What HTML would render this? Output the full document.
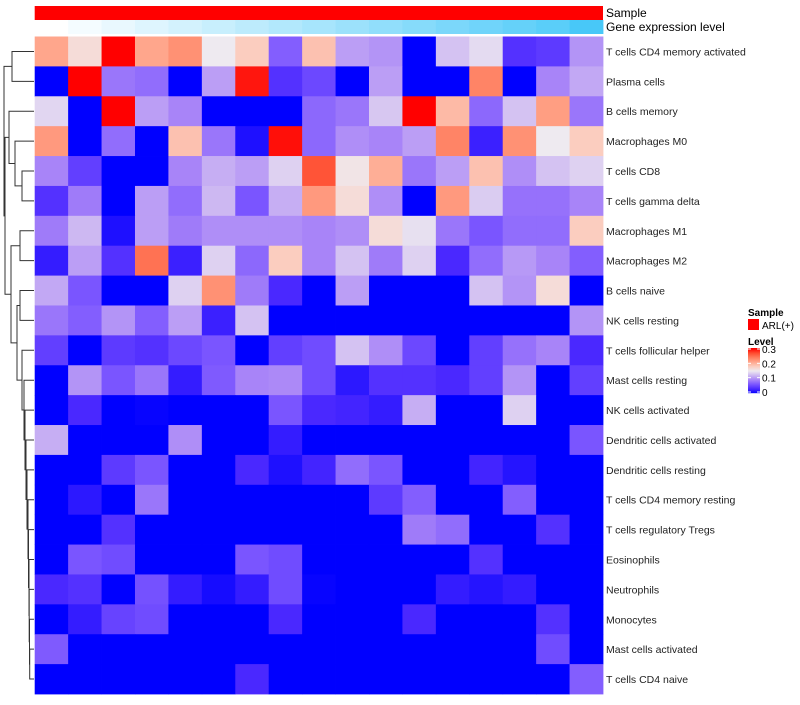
<!DOCTYPE html>
<html><head><meta charset="utf-8"><style>
body{margin:0;background:#fff;font-family:"Liberation Sans",sans-serif}
svg text{font-family:"Liberation Sans",sans-serif}
</style></head><body>
<svg id="chart" width="800" height="700" viewBox="0 0 800 700" xmlns="http://www.w3.org/2000/svg">
<g id="dendro"></g>
<g id="annot"></g>
<g id="cells"></g>
<g id="labels"></g>
<g id="legend"></g>
</svg>
<script>
const rowNames = ["T cells CD4 memory activated","Plasma cells","B cells memory","Macrophages M0","T cells CD8","T cells gamma delta","Macrophages M1","Macrophages M2","B cells naive","NK cells resting","T cells follicular helper","Mast cells resting","NK cells activated","Dendritic cells activated","Dendritic cells resting","T cells CD4 memory resting","T cells regulatory  Tregs","Eosinophils","Neutrophils","Monocytes","Mast cells activated","T cells CD4 naive"];
const geneLevel = [0,0.06,0.12,0.18,0.24,0.3,0.36,0.42,0.48,0.54,0.6,0.66,0.72,0.78,0.84,0.9,1];
const legendTicks = ["0","0.1","0.2","0.3"];
// relative level (0..1 of the 0–0.3 scale)
const row1 = [0.7,0.55,1,0.7,0.75,0.5,0.6,0.22,0.63,0.35,0.33,0,0.42,0.47,0.12,0.14,0.33];
const row2 = [0,1,0.27,0.25,0,0.35,0.97,0.12,0.17,0,0.35,0,0,0.78,0,0.3,0.37];
const row3 = [0.46,0,1,0.35,0.3,0,0,0,0.24,0.27,0.43,1,0.65,0.24,0.42,0.72,0.27];
const row4 = [0.73,0,0.25,0,0.63,0.27,0.04,0.98,0.24,0.32,0.3,0.35,0.78,0.08,0.75,0.5,0.6];
const row5 = [0.3,0.15,0,0,0.3,0.38,0.35,0.45,0.88,0.52,0.68,0.27,0.35,0.63,0.32,0.42,0.45];
const row6 = [0.12,0.28,0,0.35,0.25,0.4,0.2,0.38,0.73,0.55,0.32,0,0.73,0.44,0.26,0.26,0.3];
const row7 = [0.28,0.4,0.04,0.35,0.28,0.32,0.32,0.32,0.3,0.32,0.55,0.48,0.27,0.2,0.25,0.25,0.6];
const row8 = [0.07,0.35,0.12,0.82,0.08,0.45,0.24,0.6,0.3,0.42,0.28,0.45,0.1,0.25,0.34,0.3,0.22];
const row9 = [0.37,0.2,0,0,0.45,0.75,0.28,0.1,0,0.35,0,0,0,0.42,0.33,0.55,0];
const row10 = [0.27,0.22,0.33,0.22,0.35,0.08,0.42,0,0,0,0,0,0,0,0,0,0.33];
const row11 = [0.15,0,0.14,0.12,0.17,0.2,0,0.15,0.18,0.42,0.32,0.17,0,0.15,0.26,0.3,0.1];
const row12 = [0,0.33,0.2,0.27,0.07,0.21,0.3,0.31,0.18,0.06,0.12,0.12,0.1,0.15,0.33,0,0.15];
const row13 = [0,0.1,0,0.01,0,0,0,0.2,0.1,0.09,0.07,0.38,0,0,0.45,0,0];
const row14 = [0.38,0,0,0,0.32,0,0,0.07,0,0,0,0,0,0,0,0,0.2];
const row15 = [0,0,0.14,0.2,0,0,0.1,0.04,0.09,0.25,0.2,0,0,0.09,0.05,0,0];
const row16 = [0,0.06,0,0.27,0,0,0,0,0,0,0.14,0.22,0,0,0.22,0,0];
const row17 = [0,0,0.12,0,0,0,0,0,0,0,0,0.28,0.25,0,0,0.12,0];
const row18 = [0,0.2,0.18,0,0,0,0.2,0.18,0,0,0,0,0,0.12,0,0,0];
const row19 = [0.1,0.12,0,0.19,0.07,0.03,0.07,0.18,0.01,0,0,0,0.07,0.05,0.07,0,0];
const row20 = [0,0.07,0.16,0.18,0,0,0,0.1,0,0,0,0.1,0,0,0,0.12,0];
const row21 = [0.21,0,0,0,0,0,0,0,0,0,0,0,0,0,0,0.18,0];
const row22 = [0,0,0,0,0,0,0.1,0,0,0,0,0,0,0,0,0,0.22];
const values = [row1,row2,row3,row4,row5,row6,row7,row8,row9,row10,row11,row12,row13,row14,row15,row16,row17,row18,row19,row20,row21,row22];

const NS="http://www.w3.org/2000/svg";
const X0=34.7, X1=603, Y0=36.5, Y1=694;
const nCol=values[0].length, nRow=values.length;
const cw=(X1-X0)/nCol, rh=(Y1-Y0)/nRow;
const xPos=c=>X0+c*cw, yPos=r=>Y0+r*rh;
const stops=["#0000ff","#4a28ff","#7a55ff","#a884f8","#cdb8f2","#eeeaf0","#fbcdbf","#ffa68c","#ff7c5c","#ff4a2e","#ff0000"];
function hex(h){return [1,3,5].map(i=>parseInt(h.substr(i,2),16));}
function color(v){v=Math.max(0,Math.min(1,v));const p=v*10,i=Math.min(9,Math.floor(p)),t=p-i;
 const a=hex(stops[i]),b=hex(stops[i+1]);return "rgb("+a.map((x,k)=>Math.round(x+(b[k]-x)*t)).join(",")+")";}
function gcol(v){const a=[255,255,255],b=[72,200,248];return "rgb("+a.map((x,k)=>Math.round(x+(b[k]-x)*v)).join(",")+")";}
function mk(tag,attrs,parent){const e=document.createElementNS(NS,tag);for(const k in attrs)e.setAttribute(k,attrs[k]);parent.appendChild(e);return e;}

const cells=document.getElementById('cells');
values.forEach((row,r)=>row.forEach((v,c)=>{
 const e=mk('rect',{x:xPos(c),y:yPos(r),width:cw+0.4,height:rh+0.4,fill:color(v)},cells);
 
 
}));
const annot=document.getElementById('annot');
const sb=mk('rect',{x:X0,y:6,width:X1-X0,height:14,fill:"#ff0000"},annot);


geneLevel.forEach((v,c)=>{
 const e=mk('rect',{x:xPos(c),y:20,width:cw+0.4,height:14,fill:gcol(v)},annot);
 
 
});
const labels=document.getElementById('labels');
[["Sample",17],["Gene expression level",31]].forEach(([t,y])=>{
 const e=mk('text',{x:606,y:y,"font-size":12,fill:"#000"},labels);e.textContent=t;
 
 
});
rowNames.forEach((n,r)=>{
 const e=mk('text',{x:606,y:yPos(r)+rh/2+4,"font-size":10.5,fill:"#222"},labels);e.textContent=n;
 
 
});
// dendrogram: [x, left, right], leaves = row index
const bottom=[17,[20,8,9],[22,10,[24,11,[25,12,[26,13,[27,14,[28,15,[28.5,16,[29,17,[29.2,18,[29.5,19,[29.7,20,21]]]]]]]]]]]];
const tree=[4,[12,0,1],[5,[9,2,[15,3,[22,4,5]]],[11,[20,6,7],bottom]]];
const dg=document.getElementById('dendro');
function draw(n){
 if(typeof n==="number") return {x:34, y:yPos(n)+rh/2};
 const a=draw(n[1]),b=draw(n[2]),x=n[0];
 const p=mk('path',{d:`M${a.x},${a.y}H${x}V${b.y}H${b.x}`,fill:"none",stroke:"#333","stroke-width":1},dg);
 
 
 return {x:x,y:(a.y+b.y)/2};
}
draw(tree);
// legend
const lg=document.getElementById('legend');
function txt(t,x,y,fs,bold,name){const e=mk('text',{x:x,y:y,"font-size":fs,"font-weight":bold?"bold":"normal",fill:"#000"},lg);e.textContent=t;
 
 }
txt("Sample",748,316,10,true,'legend-sample-title');
const sq=mk('rect',{x:748,y:319,width:11,height:11,fill:"#ff0000"},lg);


txt("ARL(+)",762,329,10,false,'legend-arl-label');
txt("Level",748,345,10,true,'legend-level-title');
const CB0=348,CB1=393;
for(let i=0;i<45;i++){const v=1-i/45;
 const e=mk('rect',{x:748,y:CB0+i,width:12,height:1.2,fill:color(v)},lg);
 
 }
legendTicks.forEach((t,i)=>{const y=CB1-1-i*(CB1-CB0-2)/3;
 const l=mk('line',{x1:748,x2:751,y1:y,y2:y,stroke:"#fff"},lg);
 
 
 const l2=mk('line',{x1:757,x2:760,y1:y,y2:y,stroke:"#fff"},lg);
 
 
 txt(t,762,y+4,10,false,'colorbar-tick-label');});
</script>
</body></html>
